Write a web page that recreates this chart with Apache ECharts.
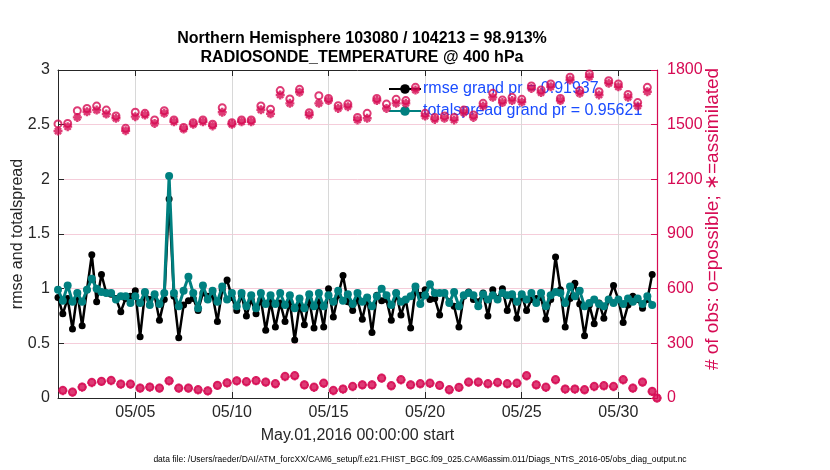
<!DOCTYPE html>
<html>
<head>
<meta charset="utf-8">
<script src="https://cdn.jsdelivr.net/npm/echarts@6/dist/echarts.min.js"></script>
<style>html,body{margin:0;padding:0;background:#fff}#c{width:830px;height:470px}</style>
</head>
<body>
<div id="c"></div>
<script>
// time: 6-hourly bins starting May 01 2016 00Z (day-of-month)
var startDay = 1;
var stepDays = 0.25;
var xTickDays = [5, 10, 15, 20, 25, 30];
var leftTicks = [0, 0.5, 1, 1.5, 2, 2.5, 3];
var rightTicks = [0, 300, 600, 900, 1200, 1500, 1800];

var rmse = [0.92,0.77,0.91,0.63,0.96,0.66,0.99,1.31,0.88,1.13,0.96,0.95,0.91,0.79,0.91,0.93,0.98,0.56,0.96,0.90,
0.94,0.71,0.90,1.82,0.93,0.55,0.85,0.89,0.91,0.80,0.96,0.93,0.94,0.70,0.99,1.08,0.92,0.80,0.94,0.75,
0.90,0.77,0.90,0.62,0.88,0.65,0.87,0.70,0.88,0.53,0.85,0.67,0.90,0.64,0.88,0.65,1.00,0.74,0.94,1.12,
0.88,0.80,0.90,0.72,0.92,0.60,0.94,0.89,0.90,0.71,0.96,0.76,0.90,0.64,0.99,0.94,0.99,0.90,0.91,0.76,
0.96,0.88,0.84,0.65,0.93,0.97,0.90,0.88,0.96,0.75,0.99,0.91,1.00,0.80,0.93,0.73,0.94,0.80,0.90,0.91,
0.92,0.72,0.90,1.29,0.99,0.65,0.91,1.05,0.86,0.57,0.85,0.68,0.87,0.73,0.90,1.03,0.90,0.69,0.85,0.93,
0.90,0.82,0.90,1.13];

var spread = [0.99,0.89,1.03,0.88,0.96,0.88,0.99,1.09,1.00,0.97,0.96,0.96,0.90,0.93,0.93,0.87,0.93,0.87,0.97,0.85,
0.95,0.86,0.96,2.03,0.96,0.84,0.98,1.11,0.96,0.82,1.03,0.90,0.98,0.88,1.02,0.90,0.96,0.84,0.96,0.84,
0.94,0.82,0.96,0.86,0.94,0.86,0.96,0.85,0.94,0.82,0.91,0.82,0.95,0.84,0.96,0.84,0.94,0.88,0.98,0.89,
0.95,0.86,0.96,0.88,0.92,0.84,0.93,1.00,0.94,0.85,0.96,0.88,0.90,0.93,1.02,0.86,0.94,1.04,0.96,0.96,
0.96,0.87,0.97,0.84,0.94,0.96,0.94,0.84,0.95,0.90,0.94,0.90,0.96,0.94,0.95,0.88,0.95,0.90,0.96,0.87,
0.96,0.84,0.94,0.97,0.96,0.87,1.02,0.93,0.98,0.84,0.87,0.90,0.86,0.84,0.90,0.87,0.90,0.86,0.91,0.88,
0.91,0.86,0.93,0.85];

var nPossible = [1504,42,1507,33,1577,61,1589,86,1602,92,1580,97,1548,77,1480,77,1568,55,1562,61,
1526,55,1577,95,1526,55,1485,55,1511,46,1526,40,1502,70,1593,84,1511,95,1526,90,
1526,96,1603,88,1585,79,1687,119,1641,123,1694,73,1566,60,1659,82,1644,42,1604,50,
1613,64,1540,73,1562,73,1644,110,1613,68,1639,101,1632,73,1705,79,1562,82,1540,70,
1548,46,1540,59,1580,88,1553,88,1617,79,1672,86,1635,79,1650,82,1639,123,1712,73,
1690,60,1723,101,1644,50,1760,50,1687,46,1778,64,1681,68,1741,64,1723,101,1666,55,
1621,88,1705,37,0];

var nAssim = [1465,40,1489,31,1540,59,1571,84,1580,90,1558,95,1535,75,1467,75,1544,53,1553,59,
1507,53,1562,93,1516,53,1476,53,1502,44,1516,38,1493,68,1568,82,1502,93,1516,88,
1516,94,1582,86,1560,77,1663,117,1617,121,1678,71,1553,58,1617,80,1632,40,1589,48,
1599,62,1526,71,1535,71,1632,108,1589,66,1617,99,1617,71,1690,77,1547,80,1529,68,
1535,44,1526,57,1566,86,1540,86,1602,77,1650,84,1621,77,1632,80,1624,121,1699,71,
1676,58,1708,99,1632,48,1745,48,1672,44,1763,62,1663,66,1727,62,1708,99,1650,53,
1602,86,1681,35,0];

var rmseName = 'rmse grand pr = 0.91937';
var spreadName = 'totalspread grand pr = 0.95621';
var rightName = '# of obs: o=possible; \u2217=assimilated';

function toXY(arr) {
  return arr.map(function (v, i) { return [startDay + i * stepDays, v]; });
}

var RED = '#d60a53';
var TEAL = '#008080';
var INK = '#262626';
var FONT = '"Liberation Sans", Arial, Helvetica, sans-serif';
var asterisk = 'path://M5 0L5 10M0 5L10 5M1.6 1.6L8.4 8.4M8.4 1.6L1.6 8.4';

var chart = echarts.init(document.getElementById('c'));
chart.setOption({
  backgroundColor: '#fff',
  textStyle: { fontFamily: FONT },
  animation: false,
  title: [{
    text: 'Northern Hemisphere 103080 / 104213 = 98.913%\nRADIOSONDE_TEMPERATURE @ 400 hPa',
    left: 357, top: 24, textAlign: 'center',
    textStyle: { fontFamily: FONT, fontSize: 16, fontWeight: 'bold', color: '#000', lineHeight: 19 }
  }, {
    text: 'data file: /Users/raeder/DAI/ATM_forcXX/CAM6_setup/f.e21.FHIST_BGC.f09_025.CAM6assim.011/Diags_NTrS_2016-05/obs_diag_output.nc',
    left: 415, top: 450, textAlign: 'center',
    textStyle: { fontFamily: FONT, fontSize: 8.5, fontWeight: 'normal', color: '#000' }
  }],
  graphic: [{
    type: 'text', x: 713, y: 219, rotation: Math.PI / 2,
    style: { text: rightName, fill: RED, font: '19px ' + FONT, align: 'center', verticalAlign: 'middle' }
  }],
  legend: {
    data: [rmseName, spreadName],
    orient: 'vertical',
    left: 388, top: 81, padding: 0,
    itemWidth: 32, itemHeight: 12, itemGap: 6,
    z: 1,
    textStyle: { fontFamily: FONT, fontSize: 16, color: '#1a4cff', padding: [0, 0, 0, -3] }
  },
  grid: { left: 58, right: 173, top: 70, bottom: 72, containLabel: false, outerBoundsMode: 'none' },
  xAxis: [{
    type: 'value', min: 1, max: 32,
    name: 'May.01,2016 00:00:00 start', nameLocation: 'middle', nameGap: 30, nameMoveOverlap: false,
    nameTextStyle: { fontFamily: FONT, fontSize: 16, color: INK },
    axisLine: { lineStyle: { color: INK, width: 1 } },
    axisTick: { inside: true, length: 6, customValues: xTickDays, lineStyle: { color: INK } },
    axisLabel: {
      customValues: xTickDays, fontSize: 16, color: INK, margin: 7,
      formatter: function (v) { return '05/' + (v < 10 ? '0' : '') + Math.round(v); }
    },
    splitLine: { show: true, lineStyle: { color: '#d8d8d8', width: 1 } }
  }, {
    type: 'value', min: 1, max: 32, position: 'top',
    axisLine: { show: true, onZero: false, lineStyle: { color: INK, width: 1 } },
    axisTick: { show: true, inside: true, length: 6, customValues: xTickDays, lineStyle: { color: INK } },
    axisLabel: { show: false },
    splitLine: { show: false }
  }],
  yAxis: [{
    type: 'value', min: 0, max: 3, interval: 0.5,
    name: 'rmse and totalspread', nameLocation: 'middle', nameGap: 32, nameMoveOverlap: false,
    nameTextStyle: { fontFamily: FONT, fontSize: 16, color: INK },
    axisLine: { show: true, lineStyle: { color: INK, width: 1 } },
    axisTick: { show: true, inside: true, length: 6, lineStyle: { color: INK } },
    axisLabel: { fontSize: 16, color: INK, margin: 8, formatter: function (v) { return String(v); } },
    splitLine: { show: false }
  }, {
    type: 'value', min: 0, max: 1800, interval: 300, position: 'right',
    axisLine: { show: true, lineStyle: { color: RED, width: 1.2 } },
    axisTick: { show: true, inside: true, length: 6, lineStyle: { color: RED } },
    axisLabel: { fontSize: 16, color: RED, margin: 10, formatter: function (v) { return String(v); } },
    splitLine: { show: true, lineStyle: { color: '#f5cdda', width: 1 } }
  }],
  series: [{
    name: 'possible', type: 'scatter', yAxisIndex: 1, clip: false,
    symbol: 'circle', symbolSize: 7,
    itemStyle: { color: 'rgba(0,0,0,0)', borderColor: RED, borderWidth: 2 },
    data: toXY(nPossible), z: 3
  }, {
    name: 'assimilated', type: 'scatter', yAxisIndex: 1, clip: false,
    symbol: asterisk, symbolSize: 9,
    itemStyle: { color: 'rgba(0,0,0,0)', borderColor: RED, borderWidth: 2.4 },
    data: toXY(nAssim), z: 3
  }, {
    name: rmseName, type: 'line', yAxisIndex: 0,
    symbol: 'circle', symbolSize: 7, showSymbol: true,
    lineStyle: { color: '#000', width: 2.5 },
    itemStyle: { color: '#000' },
    data: toXY(rmse), z: 4
  }, {
    name: spreadName, type: 'line', yAxisIndex: 0,
    symbol: 'circle', symbolSize: 8, showSymbol: true,
    lineStyle: { color: TEAL, width: 3 },
    itemStyle: { color: TEAL },
    data: toXY(spread), z: 5
  }]
});
</script>
</body>
</html>
